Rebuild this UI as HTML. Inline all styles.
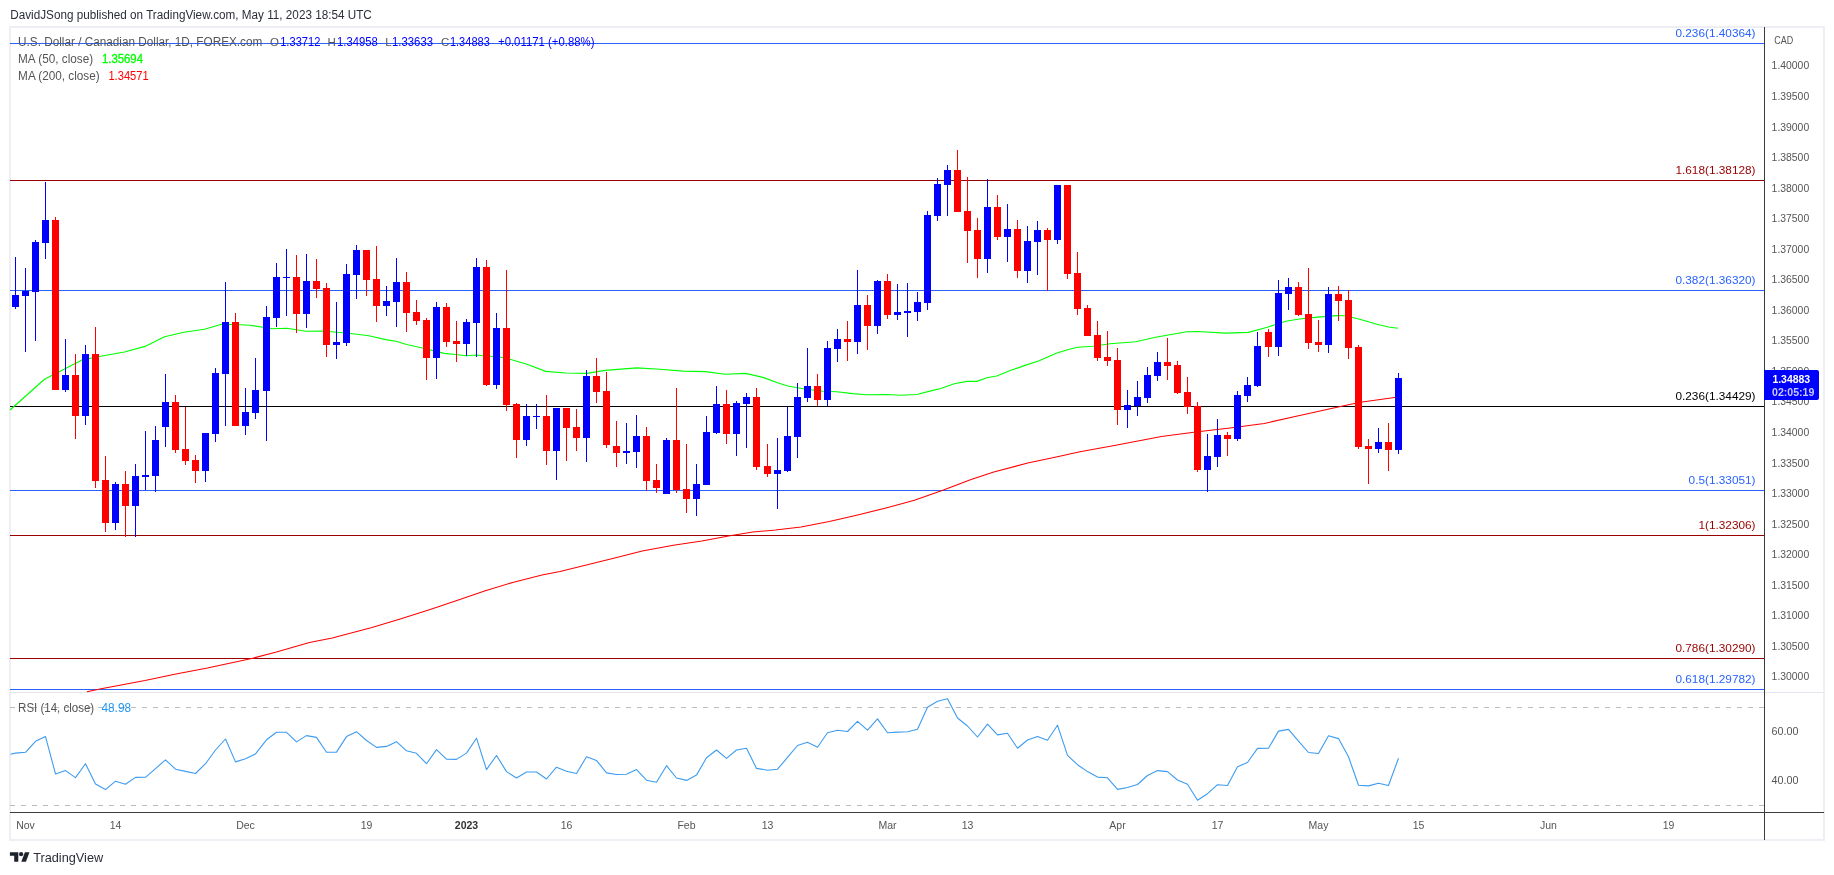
<!DOCTYPE html>
<html><head><meta charset="utf-8"><title>USDCAD</title>
<style>
html,body{margin:0;padding:0;background:#fff;}
body{width:1834px;height:875px;overflow:hidden;position:relative;font-family:"Liberation Sans", sans-serif;}
svg{position:absolute;left:0;top:0;display:block}
text{font-family:"Liberation Sans", sans-serif;}
.ce{shape-rendering:crispEdges}
</style></head><body>
<svg width="1834" height="875" viewBox="0 0 1834 875">
<rect x="0" y="0" width="1834" height="875" fill="#ffffff"/>
<g class="ce">
<rect x="9" y="26" width="1816" height="2" fill="#eeeff4"/>
<rect x="9" y="839" width="1816" height="2" fill="#eeeff4"/>
<rect x="9" y="26" width="2" height="815" fill="#eeeff4"/>
<rect x="1823" y="26" width="2" height="815" fill="#eeeff4"/>
<rect x="11" y="692" width="1812" height="1" fill="#e4e6ee"/>
</g>
<g id="fibs">
<rect class="ce" x="10" y="43" width="1754" height="1" fill="#2962ff"/>
<rect class="ce" x="10" y="180" width="1754" height="1" fill="#990000"/>
<rect class="ce" x="10" y="290" width="1754" height="1" fill="#2962ff"/>
<rect class="ce" x="10" y="406" width="1754" height="1" fill="#000000"/>
<rect class="ce" x="10" y="490" width="1754" height="1" fill="#2962ff"/>
<rect class="ce" x="10" y="535" width="1754" height="1" fill="#990000"/>
<rect class="ce" x="10" y="658" width="1754" height="1" fill="#990000"/>
<rect class="ce" x="10" y="689" width="1754" height="1" fill="#2962ff"/>
</g>
<path d="M10.0 410.0 L44.5 379.2 L82.0 360.0 L100.5 356.2 L124.5 352.0 L145.0 346.4 L164.5 336.8 L184.0 332.2 L204.5 329.2 L221.6 324.2 L240.0 324.7 L250.0 325.3 L272.8 328.7 L286.6 328.2 L306.0 331.2 L323.0 331.0 L350.5 333.5 L368.8 335.8 L387.0 339.9 L396.0 341.3 L407.6 344.7 L421.4 347.7 L444.2 353.4 L455.6 354.5 L466.0 355.7 L476.0 355.0 L490.0 356.3 L501.0 357.3 L510.0 359.2 L527.0 364.3 L545.7 371.4 L566.0 373.0 L587.0 373.4 L605.0 370.4 L637.0 367.9 L660.0 369.3 L683.0 371.1 L705.6 371.6 L725.0 374.3 L745.6 373.4 L750.0 374.4 L763.7 377.6 L777.4 382.8 L788.8 386.3 L804.8 389.0 L823.0 391.3 L836.8 391.7 L852.8 393.6 L866.5 394.7 L887.0 394.5 L900.8 395.2 L916.8 394.5 L932.8 390.4 L940.0 388.8 L954.2 383.8 L967.0 381.4 L976.9 381.4 L986.8 377.7 L996.7 376.0 L1010.9 370.3 L1025.0 365.4 L1039.2 360.7 L1056.2 353.3 L1067.6 349.8 L1077.5 347.2 L1093.0 346.2 L1110.0 343.8 L1135.6 341.7 L1155.5 337.3 L1172.5 334.2 L1186.7 331.8 L1198.0 331.5 L1225.4 333.1 L1248.2 332.4 L1267.4 327.2 L1285.7 321.3 L1299.4 319.0 L1315.4 317.4 L1336.0 315.6 L1345.0 315.8 L1358.8 319.0 L1377.0 324.3 L1388.5 327.0 L1398.0 328.3" fill="none" stroke="#00ff00" stroke-width="1.15" stroke-linejoin="round"/>
<path d="M86.9 691.7 L102.5 688.5 L145.0 680.6 L173.4 674.6 L207.4 668.1 L252.8 658.2 L275.5 652.3 L309.5 642.6 L332.2 638.1 L371.9 627.6 L400.2 619.1 L428.6 610.0 L456.9 600.6 L485.3 590.7 L513.6 582.2 L542.0 575.1 L560.0 571.4 L588.4 564.6 L616.7 557.5 L642.2 551.0 L673.4 545.3 L701.8 541.1 L730.0 535.7 L752.8 532.0 L775.5 530.0 L801.0 526.9 L829.3 521.5 L857.7 515.0 L886.0 507.9 L914.4 500.2 L942.8 490.3 L971.1 479.5 L993.8 471.9 L1027.8 463.1 L1056.2 456.9 L1080.0 451.8 L1115.7 445.3 L1161.4 436.6 L1195.7 432.1 L1230.0 427.9 L1264.2 423.4 L1298.5 415.8 L1331.4 408.4 L1358.8 402.6 L1398.0 397.0" fill="none" stroke="#ff0000" stroke-width="1.05" stroke-linejoin="round"/>
<g class="ce" id="candles">
<rect x="15" y="257" width="1" height="52" fill="#0000ff"/><rect x="12" y="295" width="7" height="12" fill="#0000ff"/>
<rect x="25" y="268" width="1" height="84" fill="#0000ff"/><rect x="22" y="291" width="7" height="5" fill="#0000ff"/>
<rect x="35" y="240" width="1" height="101" fill="#0000ff"/><rect x="32" y="242" width="7" height="50" fill="#0000ff"/>
<rect x="45" y="182" width="1" height="77" fill="#0000ff"/><rect x="42" y="220" width="7" height="23" fill="#0000ff"/>
<rect x="55" y="217" width="1" height="173" fill="#ff0000"/><rect x="52" y="220" width="7" height="170" fill="#ff0000"/>
<rect x="65" y="339" width="1" height="53" fill="#0000ff"/><rect x="62" y="375" width="7" height="15" fill="#0000ff"/>
<rect x="75" y="354" width="1" height="85" fill="#ff0000"/><rect x="72" y="375" width="7" height="41" fill="#ff0000"/>
<rect x="85" y="345" width="1" height="80" fill="#0000ff"/><rect x="82" y="354" width="7" height="62" fill="#0000ff"/>
<rect x="95" y="327" width="1" height="161" fill="#ff0000"/><rect x="92" y="354" width="7" height="127" fill="#ff0000"/>
<rect x="105" y="456" width="1" height="76" fill="#ff0000"/><rect x="102" y="480" width="7" height="43" fill="#ff0000"/>
<rect x="115" y="482" width="1" height="48" fill="#0000ff"/><rect x="112" y="484" width="7" height="39" fill="#0000ff"/>
<rect x="125" y="471" width="1" height="66" fill="#ff0000"/><rect x="122" y="484" width="7" height="22" fill="#ff0000"/>
<rect x="135" y="464" width="1" height="73" fill="#0000ff"/><rect x="132" y="476" width="7" height="30" fill="#0000ff"/>
<rect x="145" y="431" width="1" height="59" fill="#0000ff"/><rect x="142" y="475" width="7" height="2" fill="#0000ff"/>
<rect x="155" y="426" width="1" height="66" fill="#0000ff"/><rect x="152" y="440" width="7" height="36" fill="#0000ff"/>
<rect x="165" y="374" width="1" height="73" fill="#0000ff"/><rect x="162" y="402" width="7" height="25" fill="#0000ff"/>
<rect x="175" y="395" width="1" height="58" fill="#ff0000"/><rect x="172" y="402" width="7" height="48" fill="#ff0000"/>
<rect x="185" y="407" width="1" height="58" fill="#ff0000"/><rect x="182" y="449" width="7" height="12" fill="#ff0000"/>
<rect x="195" y="455" width="1" height="28" fill="#ff0000"/><rect x="192" y="460" width="7" height="11" fill="#ff0000"/>
<rect x="205" y="433" width="1" height="49" fill="#0000ff"/><rect x="202" y="433" width="7" height="38" fill="#0000ff"/>
<rect x="215" y="368" width="1" height="74" fill="#0000ff"/><rect x="212" y="373" width="7" height="61" fill="#0000ff"/>
<rect x="225" y="282" width="1" height="144" fill="#0000ff"/><rect x="222" y="322" width="7" height="52" fill="#0000ff"/>
<rect x="235" y="313" width="1" height="113" fill="#ff0000"/><rect x="232" y="322" width="7" height="104" fill="#ff0000"/>
<rect x="245" y="388" width="1" height="47" fill="#0000ff"/><rect x="242" y="412" width="7" height="14" fill="#0000ff"/>
<rect x="255" y="358" width="1" height="61" fill="#0000ff"/><rect x="252" y="390" width="7" height="23" fill="#0000ff"/>
<rect x="266" y="306" width="1" height="135" fill="#0000ff"/><rect x="263" y="317" width="7" height="74" fill="#0000ff"/>
<rect x="276" y="263" width="1" height="64" fill="#0000ff"/><rect x="273" y="277" width="7" height="41" fill="#0000ff"/>
<rect x="286" y="249" width="1" height="67" fill="#0000ff"/><rect x="283" y="277" width="7" height="1" fill="#0000ff"/>
<rect x="296" y="255" width="1" height="78" fill="#ff0000"/><rect x="293" y="277" width="7" height="37" fill="#ff0000"/>
<rect x="306" y="254" width="1" height="74" fill="#0000ff"/><rect x="303" y="281" width="7" height="33" fill="#0000ff"/>
<rect x="316" y="259" width="1" height="39" fill="#ff0000"/><rect x="313" y="281" width="7" height="8" fill="#ff0000"/>
<rect x="326" y="283" width="1" height="74" fill="#ff0000"/><rect x="323" y="288" width="7" height="57" fill="#ff0000"/>
<rect x="336" y="302" width="1" height="57" fill="#0000ff"/><rect x="333" y="342" width="7" height="3" fill="#0000ff"/>
<rect x="346" y="264" width="1" height="82" fill="#0000ff"/><rect x="343" y="274" width="7" height="69" fill="#0000ff"/>
<rect x="356" y="245" width="1" height="54" fill="#0000ff"/><rect x="353" y="250" width="7" height="25" fill="#0000ff"/>
<rect x="366" y="250" width="1" height="46" fill="#ff0000"/><rect x="363" y="250" width="7" height="30" fill="#ff0000"/>
<rect x="376" y="246" width="1" height="76" fill="#ff0000"/><rect x="373" y="279" width="7" height="27" fill="#ff0000"/>
<rect x="386" y="286" width="1" height="30" fill="#0000ff"/><rect x="383" y="301" width="7" height="5" fill="#0000ff"/>
<rect x="396" y="258" width="1" height="69" fill="#0000ff"/><rect x="393" y="282" width="7" height="20" fill="#0000ff"/>
<rect x="406" y="272" width="1" height="60" fill="#ff0000"/><rect x="403" y="282" width="7" height="31" fill="#ff0000"/>
<rect x="416" y="300" width="1" height="25" fill="#ff0000"/><rect x="413" y="312" width="7" height="9" fill="#ff0000"/>
<rect x="426" y="318" width="1" height="62" fill="#ff0000"/><rect x="423" y="320" width="7" height="38" fill="#ff0000"/>
<rect x="436" y="302" width="1" height="77" fill="#0000ff"/><rect x="433" y="307" width="7" height="51" fill="#0000ff"/>
<rect x="446" y="303" width="1" height="44" fill="#ff0000"/><rect x="443" y="307" width="7" height="35" fill="#ff0000"/>
<rect x="456" y="321" width="1" height="41" fill="#ff0000"/><rect x="453" y="341" width="7" height="3" fill="#ff0000"/>
<rect x="466" y="319" width="1" height="37" fill="#0000ff"/><rect x="463" y="322" width="7" height="22" fill="#0000ff"/>
<rect x="476" y="258" width="1" height="99" fill="#0000ff"/><rect x="473" y="267" width="7" height="56" fill="#0000ff"/>
<rect x="486" y="260" width="1" height="126" fill="#ff0000"/><rect x="483" y="267" width="7" height="118" fill="#ff0000"/>
<rect x="496" y="313" width="1" height="76" fill="#0000ff"/><rect x="493" y="328" width="7" height="57" fill="#0000ff"/>
<rect x="506" y="270" width="1" height="141" fill="#ff0000"/><rect x="503" y="328" width="7" height="77" fill="#ff0000"/>
<rect x="516" y="403" width="1" height="55" fill="#ff0000"/><rect x="513" y="404" width="7" height="36" fill="#ff0000"/>
<rect x="526" y="404" width="1" height="42" fill="#0000ff"/><rect x="523" y="416" width="7" height="24" fill="#0000ff"/>
<rect x="536" y="404" width="1" height="25" fill="#0000ff"/><rect x="533" y="416" width="7" height="1" fill="#0000ff"/>
<rect x="546" y="395" width="1" height="70" fill="#ff0000"/><rect x="543" y="416" width="7" height="35" fill="#ff0000"/>
<rect x="556" y="408" width="1" height="72" fill="#0000ff"/><rect x="553" y="408" width="7" height="43" fill="#0000ff"/>
<rect x="566" y="408" width="1" height="53" fill="#ff0000"/><rect x="563" y="408" width="7" height="20" fill="#ff0000"/>
<rect x="576" y="409" width="1" height="42" fill="#ff0000"/><rect x="573" y="427" width="7" height="11" fill="#ff0000"/>
<rect x="586" y="370" width="1" height="92" fill="#0000ff"/><rect x="583" y="376" width="7" height="62" fill="#0000ff"/>
<rect x="596" y="358" width="1" height="45" fill="#ff0000"/><rect x="593" y="376" width="7" height="16" fill="#ff0000"/>
<rect x="606" y="372" width="1" height="76" fill="#ff0000"/><rect x="603" y="391" width="7" height="54" fill="#ff0000"/>
<rect x="616" y="421" width="1" height="46" fill="#ff0000"/><rect x="613" y="446" width="7" height="7" fill="#ff0000"/>
<rect x="626" y="423" width="1" height="41" fill="#0000ff"/><rect x="623" y="451" width="7" height="2" fill="#0000ff"/>
<rect x="636" y="415" width="1" height="53" fill="#0000ff"/><rect x="633" y="436" width="7" height="16" fill="#0000ff"/>
<rect x="646" y="427" width="1" height="64" fill="#ff0000"/><rect x="643" y="436" width="7" height="45" fill="#ff0000"/>
<rect x="656" y="464" width="1" height="29" fill="#ff0000"/><rect x="653" y="480" width="7" height="8" fill="#ff0000"/>
<rect x="666" y="438" width="1" height="56" fill="#0000ff"/><rect x="663" y="440" width="7" height="54" fill="#0000ff"/>
<rect x="676" y="388" width="1" height="105" fill="#ff0000"/><rect x="673" y="440" width="7" height="50" fill="#ff0000"/>
<rect x="686" y="444" width="1" height="69" fill="#ff0000"/><rect x="683" y="489" width="7" height="10" fill="#ff0000"/>
<rect x="696" y="464" width="1" height="52" fill="#0000ff"/><rect x="693" y="484" width="7" height="15" fill="#0000ff"/>
<rect x="706" y="416" width="1" height="69" fill="#0000ff"/><rect x="703" y="432" width="7" height="53" fill="#0000ff"/>
<rect x="716" y="386" width="1" height="48" fill="#0000ff"/><rect x="713" y="404" width="7" height="29" fill="#0000ff"/>
<rect x="726" y="390" width="1" height="54" fill="#ff0000"/><rect x="723" y="404" width="7" height="30" fill="#ff0000"/>
<rect x="736" y="401" width="1" height="55" fill="#0000ff"/><rect x="733" y="403" width="7" height="31" fill="#0000ff"/>
<rect x="746" y="393" width="1" height="55" fill="#0000ff"/><rect x="743" y="397" width="7" height="7" fill="#0000ff"/>
<rect x="756" y="388" width="1" height="82" fill="#ff0000"/><rect x="753" y="397" width="7" height="70" fill="#ff0000"/>
<rect x="767" y="444" width="1" height="33" fill="#ff0000"/><rect x="764" y="466" width="7" height="8" fill="#ff0000"/>
<rect x="777" y="438" width="1" height="71" fill="#0000ff"/><rect x="774" y="470" width="7" height="4" fill="#0000ff"/>
<rect x="787" y="407" width="1" height="65" fill="#0000ff"/><rect x="784" y="436" width="7" height="35" fill="#0000ff"/>
<rect x="797" y="383" width="1" height="75" fill="#0000ff"/><rect x="794" y="397" width="7" height="40" fill="#0000ff"/>
<rect x="807" y="348" width="1" height="54" fill="#0000ff"/><rect x="804" y="386" width="7" height="12" fill="#0000ff"/>
<rect x="817" y="374" width="1" height="32" fill="#ff0000"/><rect x="814" y="386" width="7" height="14" fill="#ff0000"/>
<rect x="827" y="341" width="1" height="65" fill="#0000ff"/><rect x="824" y="348" width="7" height="52" fill="#0000ff"/>
<rect x="837" y="329" width="1" height="33" fill="#0000ff"/><rect x="834" y="339" width="7" height="10" fill="#0000ff"/>
<rect x="847" y="321" width="1" height="40" fill="#ff0000"/><rect x="844" y="339" width="7" height="3" fill="#ff0000"/>
<rect x="857" y="270" width="1" height="84" fill="#0000ff"/><rect x="854" y="305" width="7" height="37" fill="#0000ff"/>
<rect x="867" y="295" width="1" height="55" fill="#ff0000"/><rect x="864" y="305" width="7" height="21" fill="#ff0000"/>
<rect x="877" y="280" width="1" height="54" fill="#0000ff"/><rect x="874" y="281" width="7" height="45" fill="#0000ff"/>
<rect x="887" y="274" width="1" height="45" fill="#ff0000"/><rect x="884" y="281" width="7" height="34" fill="#ff0000"/>
<rect x="897" y="284" width="1" height="36" fill="#0000ff"/><rect x="894" y="312" width="7" height="3" fill="#0000ff"/>
<rect x="907" y="283" width="1" height="54" fill="#0000ff"/><rect x="904" y="311" width="7" height="2" fill="#0000ff"/>
<rect x="917" y="292" width="1" height="29" fill="#0000ff"/><rect x="914" y="302" width="7" height="10" fill="#0000ff"/>
<rect x="927" y="211" width="1" height="99" fill="#0000ff"/><rect x="924" y="215" width="7" height="88" fill="#0000ff"/>
<rect x="937" y="178" width="1" height="43" fill="#0000ff"/><rect x="934" y="184" width="7" height="32" fill="#0000ff"/>
<rect x="947" y="165" width="1" height="51" fill="#0000ff"/><rect x="944" y="170" width="7" height="15" fill="#0000ff"/>
<rect x="957" y="150" width="1" height="62" fill="#ff0000"/><rect x="954" y="170" width="7" height="42" fill="#ff0000"/>
<rect x="967" y="177" width="1" height="86" fill="#ff0000"/><rect x="964" y="211" width="7" height="20" fill="#ff0000"/>
<rect x="977" y="218" width="1" height="60" fill="#ff0000"/><rect x="974" y="230" width="7" height="29" fill="#ff0000"/>
<rect x="987" y="179" width="1" height="94" fill="#0000ff"/><rect x="984" y="207" width="7" height="52" fill="#0000ff"/>
<rect x="997" y="195" width="1" height="45" fill="#ff0000"/><rect x="994" y="207" width="7" height="30" fill="#ff0000"/>
<rect x="1007" y="204" width="1" height="58" fill="#0000ff"/><rect x="1004" y="229" width="7" height="8" fill="#0000ff"/>
<rect x="1017" y="220" width="1" height="58" fill="#ff0000"/><rect x="1014" y="229" width="7" height="42" fill="#ff0000"/>
<rect x="1027" y="226" width="1" height="57" fill="#0000ff"/><rect x="1024" y="241" width="7" height="30" fill="#0000ff"/>
<rect x="1037" y="221" width="1" height="54" fill="#0000ff"/><rect x="1034" y="230" width="7" height="12" fill="#0000ff"/>
<rect x="1047" y="228" width="1" height="63" fill="#ff0000"/><rect x="1044" y="230" width="7" height="10" fill="#ff0000"/>
<rect x="1057" y="185" width="1" height="59" fill="#0000ff"/><rect x="1054" y="185" width="7" height="55" fill="#0000ff"/>
<rect x="1067" y="185" width="1" height="94" fill="#ff0000"/><rect x="1064" y="185" width="7" height="89" fill="#ff0000"/>
<rect x="1077" y="252" width="1" height="63" fill="#ff0000"/><rect x="1074" y="273" width="7" height="36" fill="#ff0000"/>
<rect x="1087" y="305" width="1" height="31" fill="#ff0000"/><rect x="1084" y="308" width="7" height="28" fill="#ff0000"/>
<rect x="1097" y="321" width="1" height="40" fill="#ff0000"/><rect x="1094" y="335" width="7" height="23" fill="#ff0000"/>
<rect x="1107" y="331" width="1" height="35" fill="#ff0000"/><rect x="1104" y="357" width="7" height="4" fill="#ff0000"/>
<rect x="1117" y="348" width="1" height="77" fill="#ff0000"/><rect x="1114" y="360" width="7" height="50" fill="#ff0000"/>
<rect x="1127" y="390" width="1" height="38" fill="#0000ff"/><rect x="1124" y="405" width="7" height="5" fill="#0000ff"/>
<rect x="1137" y="381" width="1" height="35" fill="#0000ff"/><rect x="1134" y="397" width="7" height="9" fill="#0000ff"/>
<rect x="1147" y="367" width="1" height="36" fill="#0000ff"/><rect x="1144" y="375" width="7" height="23" fill="#0000ff"/>
<rect x="1157" y="352" width="1" height="29" fill="#0000ff"/><rect x="1154" y="362" width="7" height="14" fill="#0000ff"/>
<rect x="1167" y="338" width="1" height="42" fill="#ff0000"/><rect x="1164" y="362" width="7" height="4" fill="#ff0000"/>
<rect x="1177" y="361" width="1" height="33" fill="#ff0000"/><rect x="1174" y="365" width="7" height="28" fill="#ff0000"/>
<rect x="1187" y="377" width="1" height="37" fill="#ff0000"/><rect x="1184" y="392" width="7" height="15" fill="#ff0000"/>
<rect x="1197" y="402" width="1" height="70" fill="#ff0000"/><rect x="1194" y="406" width="7" height="64" fill="#ff0000"/>
<rect x="1207" y="434" width="1" height="58" fill="#0000ff"/><rect x="1204" y="456" width="7" height="14" fill="#0000ff"/>
<rect x="1217" y="419" width="1" height="48" fill="#0000ff"/><rect x="1214" y="435" width="7" height="22" fill="#0000ff"/>
<rect x="1227" y="432" width="1" height="24" fill="#ff0000"/><rect x="1224" y="435" width="7" height="4" fill="#ff0000"/>
<rect x="1237" y="391" width="1" height="50" fill="#0000ff"/><rect x="1234" y="395" width="7" height="44" fill="#0000ff"/>
<rect x="1247" y="377" width="1" height="25" fill="#0000ff"/><rect x="1244" y="385" width="7" height="11" fill="#0000ff"/>
<rect x="1257" y="332" width="1" height="55" fill="#0000ff"/><rect x="1254" y="346" width="7" height="40" fill="#0000ff"/>
<rect x="1268" y="329" width="1" height="28" fill="#ff0000"/><rect x="1265" y="332" width="7" height="15" fill="#ff0000"/>
<rect x="1278" y="280" width="1" height="76" fill="#0000ff"/><rect x="1275" y="293" width="7" height="54" fill="#0000ff"/>
<rect x="1288" y="278" width="1" height="32" fill="#0000ff"/><rect x="1285" y="287" width="7" height="7" fill="#0000ff"/>
<rect x="1298" y="282" width="1" height="34" fill="#ff0000"/><rect x="1295" y="287" width="7" height="28" fill="#ff0000"/>
<rect x="1308" y="268" width="1" height="81" fill="#ff0000"/><rect x="1305" y="314" width="7" height="29" fill="#ff0000"/>
<rect x="1318" y="320" width="1" height="32" fill="#ff0000"/><rect x="1315" y="342" width="7" height="3" fill="#ff0000"/>
<rect x="1328" y="287" width="1" height="66" fill="#0000ff"/><rect x="1325" y="294" width="7" height="51" fill="#0000ff"/>
<rect x="1338" y="286" width="1" height="35" fill="#ff0000"/><rect x="1335" y="294" width="7" height="7" fill="#ff0000"/>
<rect x="1348" y="290" width="1" height="69" fill="#ff0000"/><rect x="1345" y="300" width="7" height="48" fill="#ff0000"/>
<rect x="1358" y="345" width="1" height="104" fill="#ff0000"/><rect x="1355" y="347" width="7" height="100" fill="#ff0000"/>
<rect x="1368" y="439" width="1" height="45" fill="#ff0000"/><rect x="1365" y="446" width="7" height="3" fill="#ff0000"/>
<rect x="1378" y="428" width="1" height="25" fill="#0000ff"/><rect x="1375" y="442" width="7" height="7" fill="#0000ff"/>
<rect x="1388" y="423" width="1" height="48" fill="#ff0000"/><rect x="1385" y="442" width="7" height="8" fill="#ff0000"/>
<rect x="1398" y="373" width="1" height="81" fill="#0000ff"/><rect x="1395" y="378" width="7" height="72" fill="#0000ff"/>
</g>
<g id="rsi">
<line x1="10" y1="707.5" x2="1764" y2="707.5" stroke="#bcbcbf" stroke-width="1" stroke-dasharray="5,6"/>
<line x1="10" y1="805.5" x2="1764" y2="805.5" stroke="#bcbcbf" stroke-width="1" stroke-dasharray="5,6"/>
<path d="M10.5 754.3 L15.5 753.1 L25.5 752.3 L35.5 741.3 L45.5 736.6 L55.5 773.9 L65.5 770.6 L75.5 777.6 L85.5 763.7 L95.5 784.1 L105.5 789.6 L115.5 781.2 L125.5 784.3 L135.5 777.4 L145.5 777.3 L155.5 768.6 L165.5 759.8 L175.5 769.2 L185.5 771.4 L195.5 773.5 L205.5 763.7 L215.5 750.0 L225.5 739.0 L235.5 761.9 L245.5 758.8 L255.5 753.9 L266.5 739.8 L276.5 732.3 L286.5 732.3 L296.5 741.9 L306.5 735.6 L316.5 737.4 L326.5 752.3 L336.5 752.1 L346.5 736.6 L356.5 731.7 L366.5 740.5 L376.5 747.4 L386.5 746.4 L396.5 741.7 L406.5 750.8 L416.5 753.3 L426.5 763.7 L436.5 749.6 L446.5 759.2 L456.5 759.4 L466.5 753.1 L476.5 738.2 L486.5 769.6 L496.5 755.5 L506.5 771.6 L516.5 778.0 L526.5 772.0 L536.5 772.0 L546.5 779.0 L556.5 767.2 L566.5 771.2 L576.5 773.5 L586.5 756.8 L596.5 760.4 L606.5 772.9 L616.5 774.5 L626.5 774.3 L636.5 769.6 L646.5 780.2 L656.5 782.2 L666.5 765.7 L676.5 778.0 L686.5 780.4 L696.5 775.1 L706.5 757.8 L716.5 750.0 L726.5 758.4 L736.5 750.0 L746.5 748.2 L756.5 768.4 L767.5 770.2 L777.5 769.2 L787.5 757.4 L797.5 745.5 L807.5 742.3 L817.5 747.2 L827.5 732.7 L837.5 730.3 L847.5 731.5 L857.5 721.3 L867.5 730.1 L877.5 718.9 L887.5 732.7 L897.5 732.1 L907.5 731.7 L917.5 729.2 L927.5 707.2 L937.5 701.3 L947.5 698.7 L957.5 718.0 L967.5 726.0 L977.5 737.0 L987.5 724.1 L997.5 734.9 L1007.5 733.3 L1017.5 748.2 L1027.5 740.0 L1037.5 736.6 L1047.5 740.3 L1057.5 725.2 L1067.5 755.3 L1077.5 764.7 L1087.5 771.6 L1097.5 777.1 L1107.5 777.8 L1117.5 789.4 L1127.5 787.5 L1137.5 784.5 L1147.5 775.5 L1157.5 770.6 L1167.5 771.6 L1177.5 780.0 L1187.5 784.3 L1197.5 800.2 L1207.5 793.7 L1217.5 784.7 L1227.5 785.5 L1237.5 766.7 L1247.5 762.5 L1257.5 748.4 L1268.5 748.2 L1278.5 731.1 L1288.5 729.4 L1298.5 741.1 L1308.5 752.5 L1318.5 753.5 L1328.5 735.8 L1338.5 738.6 L1348.5 756.8 L1358.5 785.3 L1368.5 785.9 L1378.5 783.3 L1388.5 785.5 L1398.5 758.2" fill="none" stroke="#3d9cf0" stroke-width="1.1" stroke-linejoin="round"/>
</g>
<g class="ce">
<rect x="1764" y="27" width="1" height="813" fill="#3c3c3c"/>
<rect x="10" y="812" width="1814" height="1" fill="#3c3c3c"/>
</g>
<g fill="#1e222d">
<path d="M9.9 852.2 H18.3 V861.7 H14.2 V855.8 H9.9 Z"/>
<circle cx="21.1" cy="854.2" r="2.1"/>
<path d="M24.9 852.2 H29.5 L25.9 861.7 H21.3 Z"/>
</g>

<defs><filter id="nf" x="0" y="0" width="1834" height="875" filterUnits="userSpaceOnUse" color-interpolation-filters="sRGB"><feOffset dx="0" dy="0"/></filter></defs>
<g filter="url(#nf)">
<text x="1755.5" y="36.6" font-size="11.8" fill="#2962ff" text-anchor="end">0.236(1.40364)</text>
<text x="1755.5" y="173.6" font-size="11.8" fill="#990000" text-anchor="end">1.618(1.38128)</text>
<text x="1755.5" y="283.6" font-size="11.8" fill="#2962ff" text-anchor="end">0.382(1.36320)</text>
<text x="1755.5" y="399.6" font-size="11.8" fill="#000000" text-anchor="end">0.236(1.34429)</text>
<text x="1755.5" y="483.6" font-size="11.8" fill="#2962ff" text-anchor="end">0.5(1.33051)</text>
<text x="1755.5" y="528.6" font-size="11.8" fill="#990000" text-anchor="end">1(1.32306)</text>
<text x="1755.5" y="651.6" font-size="11.8" fill="#990000" text-anchor="end">0.786(1.30290)</text>
<text x="1755.5" y="682.6" font-size="11.8" fill="#2962ff" text-anchor="end">0.618(1.29782)</text>
<g id="paxis" font-size="11" fill="#555555">
<text x="1771.6" y="68.8" textLength="37.6" lengthAdjust="spacingAndGlyphs">1.40000</text>
<text x="1771.6" y="99.8" textLength="37.6" lengthAdjust="spacingAndGlyphs">1.39500</text>
<text x="1771.6" y="130.8" textLength="37.6" lengthAdjust="spacingAndGlyphs">1.39000</text>
<text x="1771.6" y="160.8" textLength="37.6" lengthAdjust="spacingAndGlyphs">1.38500</text>
<text x="1771.6" y="191.8" textLength="37.6" lengthAdjust="spacingAndGlyphs">1.38000</text>
<text x="1771.6" y="221.8" textLength="37.6" lengthAdjust="spacingAndGlyphs">1.37500</text>
<text x="1771.6" y="252.8" textLength="37.6" lengthAdjust="spacingAndGlyphs">1.37000</text>
<text x="1771.6" y="282.9" textLength="37.6" lengthAdjust="spacingAndGlyphs">1.36500</text>
<text x="1771.6" y="313.9" textLength="37.6" lengthAdjust="spacingAndGlyphs">1.36000</text>
<text x="1771.6" y="343.9" textLength="37.6" lengthAdjust="spacingAndGlyphs">1.35500</text>
<text x="1771.6" y="374.9" textLength="37.6" lengthAdjust="spacingAndGlyphs">1.35000</text>
<text x="1771.6" y="404.9" textLength="37.6" lengthAdjust="spacingAndGlyphs">1.34500</text>
<text x="1771.6" y="435.9" textLength="37.6" lengthAdjust="spacingAndGlyphs">1.34000</text>
<text x="1771.6" y="466.9" textLength="37.6" lengthAdjust="spacingAndGlyphs">1.33500</text>
<text x="1771.6" y="496.9" textLength="37.6" lengthAdjust="spacingAndGlyphs">1.33000</text>
<text x="1771.6" y="527.9" textLength="37.6" lengthAdjust="spacingAndGlyphs">1.32500</text>
<text x="1771.6" y="557.9" textLength="37.6" lengthAdjust="spacingAndGlyphs">1.32000</text>
<text x="1771.6" y="588.9" textLength="37.6" lengthAdjust="spacingAndGlyphs">1.31500</text>
<text x="1771.6" y="618.9" textLength="37.6" lengthAdjust="spacingAndGlyphs">1.31000</text>
<text x="1771.6" y="649.9" textLength="37.6" lengthAdjust="spacingAndGlyphs">1.30500</text>
<text x="1771.6" y="679.9" textLength="37.6" lengthAdjust="spacingAndGlyphs">1.30000</text>
<text x="1774.2" y="44" textLength="19" lengthAdjust="spacingAndGlyphs">CAD</text>
<text x="1771.6" y="735.4" textLength="27" lengthAdjust="spacingAndGlyphs">60.00</text>
<text x="1771.6" y="784.4" textLength="27" lengthAdjust="spacingAndGlyphs">40.00</text>
</g>
<path id="pbox" d="M1764 370 H1817 Q1819 370 1819 372 V398 Q1819 400 1817 400 H1764 Z" fill="#0000ff"/>
<text x="1772.4" y="382.7" font-size="11" font-weight="bold" fill="#ffffff" textLength="37.8" lengthAdjust="spacingAndGlyphs">1.34883</text>
<text x="1772" y="395.9" font-size="11" font-weight="bold" fill="#c9c9ff" textLength="42.4" lengthAdjust="spacingAndGlyphs">02:05:19</text>
<g id="taxis" font-size="10.5" fill="#555555" text-anchor="middle">
<text x="25.5" y="829">Nov</text>
<text x="115.5" y="829">14</text>
<text x="245.5" y="829">Dec</text>
<text x="366.5" y="829">19</text>
<text x="466.5" y="829" font-weight="bold" fill="#333">2023</text>
<text x="566.5" y="829">16</text>
<text x="686.5" y="829">Feb</text>
<text x="767.5" y="829">13</text>
<text x="887.5" y="829">Mar</text>
<text x="967.5" y="829">13</text>
<text x="1117.5" y="829">Apr</text>
<text x="1217.5" y="829">17</text>
<text x="1318.5" y="829">May</text>
<text x="1418.5" y="829">15</text>
<text x="1548.5" y="829">Jun</text>
<text x="1668.5" y="829">19</text>
</g>
<text x="10.3" y="19.2" font-size="12" fill="#2a2e39" textLength="361.5" lengthAdjust="spacingAndGlyphs">DavidJSong published on TradingView.com, May 11, 2023 18:54 UTC</text>
<g font-size="12">
<text x="18.1" y="45.8" fill="#555555" textLength="244.2" lengthAdjust="spacingAndGlyphs">U.S. Dollar / Canadian Dollar, 1D, FOREX.com</text>
<text x="270.0" y="45.8" fill="#555555" font-size="11.5">O</text>
<text x="280.2" y="45.8" fill="#0000ff" textLength="40.2" lengthAdjust="spacingAndGlyphs">1.33712</text>
<text x="327.4" y="45.8" fill="#555555" font-size="11.5">H</text>
<text x="337.0" y="45.8" fill="#0000ff" textLength="40.7" lengthAdjust="spacingAndGlyphs">1.34958</text>
<text x="385.2" y="45.8" fill="#555555" font-size="11.5">L</text>
<text x="392.0" y="45.8" fill="#0000ff" textLength="41.1" lengthAdjust="spacingAndGlyphs">1.33633</text>
<text x="441.0" y="45.8" fill="#555555" font-size="11.5">C</text>
<text x="449.9" y="45.8" fill="#0000ff" textLength="40.0" lengthAdjust="spacingAndGlyphs">1.34883</text>
<text x="498.0" y="45.8" fill="#0000ff" textLength="96.5" lengthAdjust="spacingAndGlyphs">+0.01171 (+0.88%)</text>
<text x="18.1" y="62.8" fill="#555555" textLength="75" lengthAdjust="spacingAndGlyphs">MA (50, close)</text>
<text x="102" y="62.8" fill="#00ff00" stroke="#00ff00" stroke-width="0.3" textLength="41" lengthAdjust="spacingAndGlyphs">1.35694</text>
<text x="18.1" y="79.8" fill="#555555" textLength="81.6" lengthAdjust="spacingAndGlyphs">MA (200, close)</text>
<text x="108.4" y="79.8" fill="#ff0000" textLength="40.3" lengthAdjust="spacingAndGlyphs">1.34571</text>
<text x="18.1" y="712" fill="#555555" textLength="76" lengthAdjust="spacingAndGlyphs">RSI (14, close)</text>
<text x="101.5" y="712" fill="#2196f3" textLength="29.5" lengthAdjust="spacingAndGlyphs">48.98</text>
</g>
<text x="33.2" y="861.6" font-size="13" fill="#2a2e39" textLength="70" lengthAdjust="spacingAndGlyphs">TradingView</text>
</g>
</svg>
</body></html>
